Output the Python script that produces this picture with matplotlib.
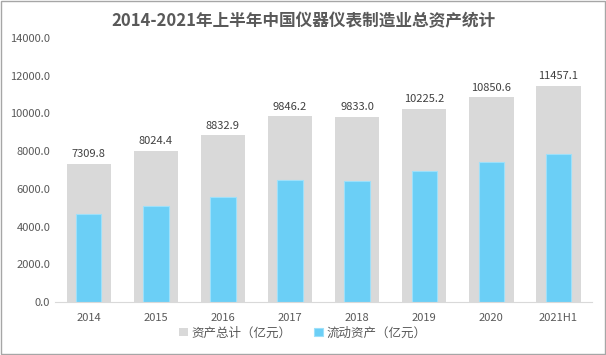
import matplotlib.pyplot as plt
import numpy as np
from matplotlib.patches import Rectangle

plt.rcParams['font.family'] = ['Noto Sans CJK SC', 'DejaVu Sans']

# === Dados ===
anos = ['2014', '2015', '2016', '2017', '2018', '2019', '2020', '2021H1']
total = [7309.8, 8024.4, 8832.9, 9846.2, 9833.0, 10225.2, 10850.6, 11457.1]
circulante = [4660, 5090, 5550, 6470, 6415, 6950, 7420, 7850]

cor_texto = '#595959'

fig = plt.figure(figsize=(6.06, 3.55), dpi=100)
ax = fig.add_axes([0.091, 0.149, 0.886, 0.744])

x = np.arange(len(anos))
ax.bar(x, total, width=0.66, color='#d9d9d9', label='资产总计（亿元）', zorder=1)
ax.bar(x, circulante, width=0.38, color='#6bcff6', edgecolor='#9de0fa', linewidth=0.8,
       label='流动资产（亿元）', zorder=2)

for xi, v in zip(x, total):
    ax.text(xi, v + 250, f'{v:.1f}', ha='center', va='bottom', fontsize=8, color='#404040')

ax.set_xlim(-0.5, len(anos) - 0.5)
ax.set_ylim(0, 14000)
ax.set_yticks(np.arange(0, 14001, 2000))
ax.set_yticklabels([f'{v:.1f}' for v in np.arange(0, 14001, 2000)])
ax.set_xticks(x)
ax.set_xticklabels(anos)
ax.tick_params(axis='both', length=0, labelsize=8, colors=cor_texto)
ax.tick_params(axis='x', pad=8)
for s in ['top', 'right', 'left']:
    ax.spines[s].set_visible(False)
ax.spines['bottom'].set_color('#d9d9d9')

fig.legend(loc='center', bbox_to_anchor=(0.5, 0.062), ncol=2, frameon=False,
           fontsize=9, labelcolor=cor_texto, handlelength=0.7, handleheight=0.7,
           handletextpad=0.3, columnspacing=1.8)

fig.text(0.5, 0.94, '2014-2021年上半年中国仪器仪表制造业总资产统计', ha='center', va='center',
         fontsize=12, fontweight='bold', color=cor_texto)

fig.patches.append(Rectangle((0.001, 0.002), 0.997, 0.995, transform=fig.transFigure,
                             fill=False, edgecolor='#a6a6a6', linewidth=1))

fig.savefig('out.png', dpi=100)
